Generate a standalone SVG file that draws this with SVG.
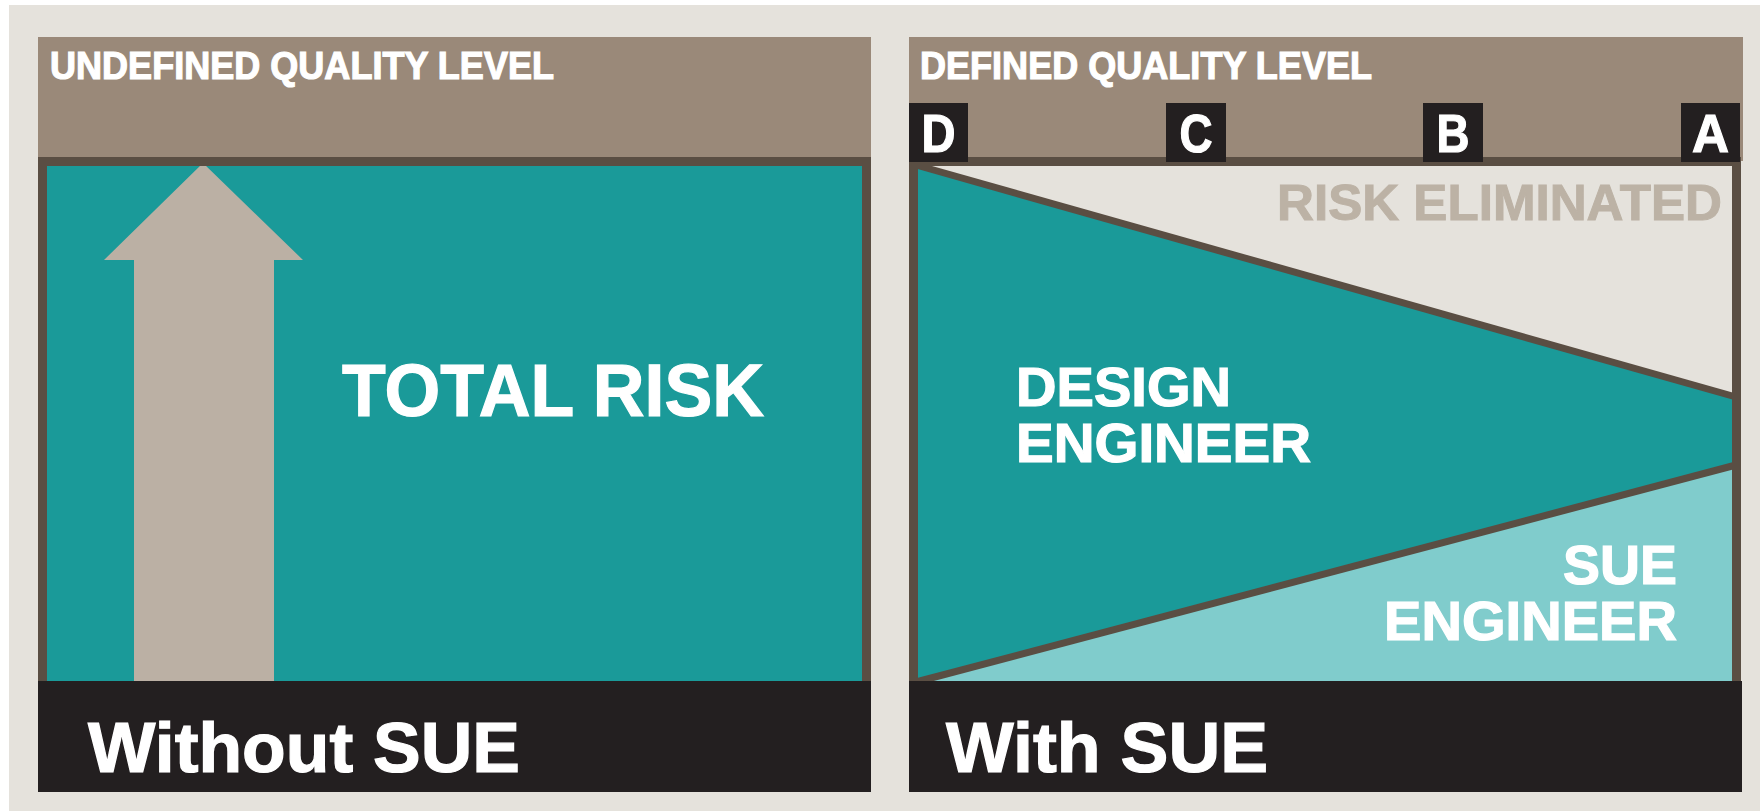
<svg xmlns="http://www.w3.org/2000/svg" width="1760" height="811" viewBox="0 0 1760 811">
  <style>
    .t { font-family: "Liberation Sans", Arial, sans-serif; font-weight: bold; fill: #ffffff; stroke: #ffffff; stroke-width: 1.2; }
    .g { font-family: "Liberation Sans", Arial, sans-serif; font-weight: bold; fill: #bcb2a5; stroke: #bcb2a5; stroke-width: 1; }
    .hdr { fill: #9a8979; }
    .bar { fill: #231f20; }
    .frame { fill: none; stroke: #5a4e43; stroke-width: 9; }
    .diag { stroke: #5a4e43; stroke-width: 7; stroke-linecap: butt; fill: none; }
    .box { fill: #231f20; }
  </style>
  <rect x="0" y="0" width="1760" height="811" fill="#ffffff"/>
  <rect x="9" y="5" width="1751" height="806" fill="#e5e2dc"/>

  <g id="left-panel">
    <rect class="hdr" x="38" y="37" width="833" height="124"/>
    <text class="t" x="50" y="79" font-size="38" textLength="504" lengthAdjust="spacingAndGlyphs">UNDEFINED QUALITY LEVEL</text>
    <rect x="42.5" y="161.5" width="824" height="525" fill="#1a9a99"/>
    <g id="arrow">
      <polygon points="203,163 303,260 274,260 274,683 134,683 134,260 104,260" fill="#bbb0a4"/>
    </g>
    <rect class="frame" x="42.5" y="161.5" width="824" height="525"/>
    <text class="t" x="342" y="416" font-size="75" textLength="422" lengthAdjust="spacingAndGlyphs">TOTAL RISK</text>
    <rect class="bar" x="38" y="681" width="833" height="111"/>
    <text class="t" x="88" y="772" font-size="70" textLength="432" lengthAdjust="spacingAndGlyphs">Without SUE</text>
  </g>

  <g id="right-panel">
    <rect class="hdr" x="909" y="37" width="834" height="124"/>
    <text class="t" x="920" y="79" font-size="38" textLength="452" lengthAdjust="spacingAndGlyphs">DEFINED QUALITY LEVEL</text>
    <g id="region-eliminated">
      <polygon points="918,166 1733,166 1733,397" fill="#e5e2dc"/>
      <text class="g" x="1722" y="220" font-size="50" text-anchor="end" textLength="445" lengthAdjust="spacingAndGlyphs">RISK ELIMINATED</text>
    </g>
    <g id="region-design">
      <polygon points="918,166 1733,397 1733,465 918,681" fill="#1a9a99"/>
      <text class="t" x="1016" y="406" font-size="55" textLength="215" lengthAdjust="spacingAndGlyphs">DESIGN</text>
      <text class="t" x="1016" y="462" font-size="55" textLength="295" lengthAdjust="spacingAndGlyphs">ENGINEER</text>
    </g>
    <g id="region-sue">
      <polygon points="918,681 1733,465 1733,681" fill="#80cccc"/>
      <text class="t" x="1677" y="584" font-size="55" text-anchor="end" textLength="114" lengthAdjust="spacingAndGlyphs">SUE</text>
      <text class="t" x="1677" y="640" font-size="55" text-anchor="end" textLength="293" lengthAdjust="spacingAndGlyphs">ENGINEER</text>
    </g>
    <g id="connectors">
      <line class="diag" x1="916" y1="165" x2="1736" y2="397"/>
      <line class="diag" x1="916" y1="682" x2="1736" y2="465"/>
    </g>
    <rect class="frame" x="913.5" y="161.5" width="823" height="525"/>
    <rect class="bar" x="909" y="681" width="833" height="111"/>
    <text class="t" x="946" y="772" font-size="70" textLength="322" lengthAdjust="spacingAndGlyphs">With SUE</text>
    <g id="level-D">
      <rect class="box" x="909" y="103" width="59" height="59"/>
      <text class="t" x="938.5" y="152" font-size="54" text-anchor="middle" textLength="34" lengthAdjust="spacingAndGlyphs">D</text>
    </g>
    <g id="level-C">
      <rect class="box" x="1166" y="103" width="60" height="59"/>
      <text class="t" x="1196" y="152" font-size="54" text-anchor="middle" textLength="33" lengthAdjust="spacingAndGlyphs">C</text>
    </g>
    <g id="level-B">
      <rect class="box" x="1423" y="103" width="60" height="59"/>
      <text class="t" x="1453" y="152" font-size="54" text-anchor="middle" textLength="33" lengthAdjust="spacingAndGlyphs">B</text>
    </g>
    <g id="level-A">
      <rect class="box" x="1681" y="103" width="59" height="59"/>
      <text class="t" x="1710.5" y="152" font-size="54" text-anchor="middle" textLength="37" lengthAdjust="spacingAndGlyphs">A</text>
    </g>
  </g>
</svg>
